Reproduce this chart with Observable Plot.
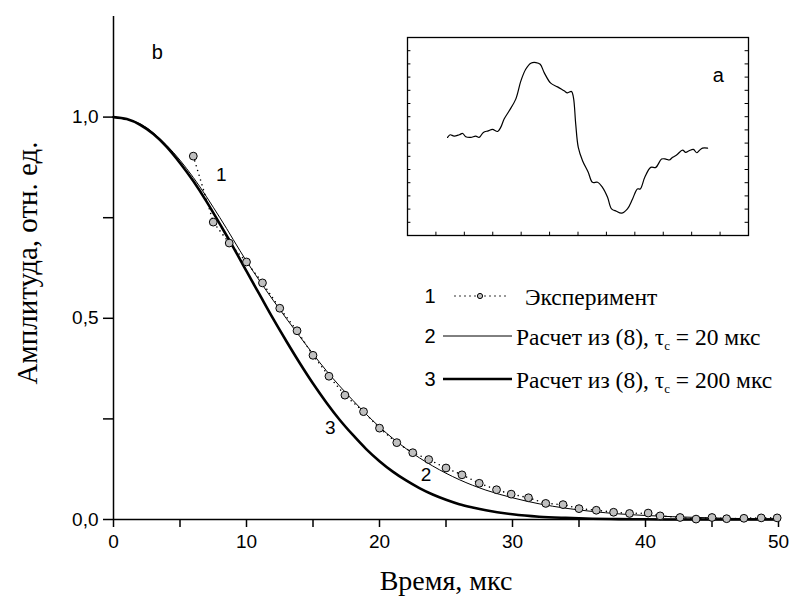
<!DOCTYPE html>
<html><head><meta charset="utf-8">
<script src="https://cdn.jsdelivr.net/npm/d3@7"></script>
<script src="https://cdn.jsdelivr.net/npm/@observablehq/plot@0.6"></script>
<style>
body{margin:0;background:#fff;}
#wrap{position:relative;width:789px;height:597px;overflow:hidden;}
#inset{position:absolute;left:406px;top:36px;}
.serif{font-family:"Liberation Serif","Times New Roman","DejaVu Serif",serif;}
</style></head><body><div id="wrap"><div id="main"></div><div id="inset"></div></div>
<script>
// Experimental points (curve 1)
const expTime = [6.0, 7.5, 8.7, 10.0, 11.2, 12.5, 13.8, 15.0, 16.2, 17.4, 18.8, 20.0, 21.3, 22.5, 23.7, 25.0, 26.2, 27.5, 28.8, 29.9, 31.2, 32.5, 33.8, 35.0, 36.3, 37.6, 38.8, 40.2, 41.1, 42.6, 43.8, 45.0, 46.1, 47.4, 48.7, 49.9];
const expAmp = [0.903, 0.739, 0.687, 0.640, 0.588, 0.525, 0.469, 0.408, 0.356, 0.309, 0.268, 0.227, 0.191, 0.166, 0.149, 0.128, 0.111, 0.090, 0.074, 0.063, 0.054, 0.040, 0.037, 0.027, 0.023, 0.018, 0.015, 0.016, 0.009, 0.005, 0.001, 0.005, 0.002, 0.003, 0.004, 0.004];
// Curve 2: calc, tau_c = 20 us (thin)
const thinTime = [0, 2, 4, 6, 8, 10, 12, 14, 16, 18, 20, 22, 24, 26, 28, 30, 32, 34, 36, 38, 40, 42, 44, 46, 48, 50];
const thinAmp = [1.000, 0.983, 0.930, 0.850, 0.750, 0.642, 0.545, 0.455, 0.370, 0.296, 0.230, 0.176, 0.133, 0.099, 0.073, 0.054, 0.039, 0.028, 0.020, 0.014, 0.010, 0.007, 0.005, 0.003, 0.002, 0.001];
// Curve 3: calc, tau_c = 200 us (thick)
const thickTime = [0, 1, 2, 3, 4, 5, 6, 7, 8, 9, 10, 11, 12, 13, 14, 15, 16, 17, 18, 19, 20, 21, 22, 23, 24, 25, 26, 27, 28, 30, 32, 34, 36, 38, 40, 42, 44, 46, 48, 50];
const thickAmp = [1.000, 0.995, 0.981, 0.958, 0.926, 0.886, 0.841, 0.790, 0.734, 0.677, 0.617, 0.558, 0.499, 0.443, 0.389, 0.338, 0.291, 0.248, 0.210, 0.175, 0.145, 0.119, 0.097, 0.078, 0.062, 0.049, 0.038, 0.030, 0.023, 0.013, 0.007, 0.004, 0.002, 0.001, 0.0005, 0, 0, 0, 0, 0];
// Curve number labels
const curveLabelText = ["1", "2", "3"];
const curveLabelX = [8.1, 23.5, 16.3];
const curveLabelY = [0.856, 0.11, 0.227];
// Axis ticks
const xTicks = [0, 10, 20, 30, 40, 50];
const xMinorTicks = [5, 15, 25, 35, 45];
const yTicks = [0, 0.5, 1.0];
const yMinorTicks = [0.25, 0.75];
const panelTag = "b";
const panelTagX = 3.3, panelTagY = 1.16;
const xLabel = "Время, мкс";
const yLabel = "Амплитуда, отн. ед.";
// Inset (a): signal trace, arbitrary units
const insetU = [1.41, 1.50, 1.64, 1.82, 1.94, 2.05, 2.23, 2.40, 2.52, 2.67, 2.84, 2.99, 3.17, 3.28, 3.40, 3.58, 3.81, 3.99, 4.16, 4.34, 4.52, 4.67, 4.81, 5.04, 5.28, 5.51, 5.63, 5.77, 5.84, 5.92, 6.01, 6.16, 6.36, 6.51, 6.69, 6.86, 7.04, 7.18, 7.35, 7.53, 7.74, 7.92, 8.09, 8.19, 8.35, 8.56, 8.74, 8.94, 9.09, 9.21, 9.33, 9.48, 9.68, 9.79, 9.91, 10.06, 10.18, 10.26, 10.38, 10.56];
const insetV = [7.43, 7.63, 7.53, 7.63, 7.73, 7.48, 7.43, 7.53, 7.43, 7.81, 7.93, 8.04, 7.88, 8.19, 8.82, 9.45, 10.33, 11.71, 12.59, 13.05, 13.10, 12.97, 12.34, 11.54, 11.26, 10.96, 10.81, 10.91, 10.45, 8.44, 6.68, 5.67, 4.79, 4.03, 4.03, 3.65, 2.90, 2.02, 1.84, 1.69, 2.02, 2.77, 3.53, 3.53, 4.41, 5.16, 5.16, 5.79, 5.79, 5.72, 5.92, 6.12, 6.47, 6.30, 6.42, 6.52, 6.27, 6.42, 6.62, 6.62];
const insetXTicks = [1, 2, 3, 4, 5, 6, 7, 8, 9, 10, 11];
const insetYTicks = [1, 2, 3, 4, 5, 6, 7, 8, 9, 10, 11, 12, 13, 14];
const insetTag = "a";
const insetTagU = 10.94, insetTagV = 12.1;
// Legend
const legendNum = ["1", "2", "3"];
const legendText = ["Эксперимент", "Расчет из (8), τ", "Расчет из (8), τ"];
const legendTail = ["", " = 20 мкс", " = 200 мкс"];

const exp = expTime.map((t, i) => ({t, a: expAmp[i]}));
const thin = thinTime.map((t, i) => ({t, a: thinAmp[i]}));
const thick = thickTime.map((t, i) => ({t, a: thickAmp[i]}));
const labels = curveLabelText.map((s, i) => ({s, x: curveLabelX[i], y: curveLabelY[i]}));
const comma = d => d.toFixed(1).replace(".", ",");
const sans = "Liberation Sans, Arial, sans-serif";

const main = Plot.plot({
  width: 789, height: 597,
  marginLeft: 113, marginRight: 11, marginTop: 16, marginBottom: 78,
  x: {domain: [0, 50]},
  y: {domain: [0, 1.25]},
  style: {background: "white", fontFamily: sans, fontSize: "19px", color: "black", overflow: "visible"},
  marks: [
    Plot.axisX(xTicks, {tickSize: 8, tickPadding: 7, label: null, fontSize: 19, strokeWidth: 1.5}),
    Plot.axisX(xMinorTicks, {tickSize: 8, tickFormat: () => "", label: null, strokeWidth: 1.5}),
    Plot.axisY(yTicks, {tickSize: 10, tickPadding: 5, tickFormat: comma, label: null, fontSize: 19, strokeWidth: 1.5}),
    Plot.axisY(yMinorTicks, {tickSize: 10, tickFormat: () => "", label: null, strokeWidth: 1.5}),
    Plot.ruleX([0], {strokeWidth: 1.5}),
    Plot.ruleY([0], {strokeWidth: 1.5}),
    Plot.line(thick, {x: "t", y: "a", stroke: "black", strokeWidth: 2.6, curve: "monotone-x"}),
    Plot.line(thin, {x: "t", y: "a", stroke: "black", strokeWidth: 1, curve: "monotone-x"}),
    Plot.line(exp, {x: "t", y: "a", stroke: "black", strokeWidth: 1.6, strokeDasharray: "0,5", strokeLinecap: "round"}),
    Plot.dot(exp, {x: "t", y: "a", r: 3.9, fill: "#c0c0c0", stroke: "black", strokeWidth: 1}),
    Plot.text(labels, {x: "x", y: "y", text: "s", fontSize: 19}),
    Plot.text([panelTag], {x: () => panelTagX, y: () => panelTagY, text: d => d, fontSize: 20}),
    Plot.text([xLabel], {frameAnchor: "bottom", dy: 62, lineAnchor: "middle", textAnchor: "middle", fontSize: 28, className: "serif"}),
    Plot.text([yLabel], {frameAnchor: "left", dx: -86, dy: -5, rotate: -90, lineAnchor: "middle", textAnchor: "middle", fontSize: 29, className: "serif"})
  ]
});
document.getElementById("main").append(main);

const ins = insetU.map((u, i) => ({u, v: insetV[i]}));
const inset = Plot.plot({
  width: 343, height: 200, margin: 1,
  x: {domain: [0, 12], axis: null},
  y: {domain: [0, 15], axis: null},
  style: {background: "transparent", overflow: "visible", fontFamily: sans},
  marks: [
    Plot.frame({stroke: "black", strokeWidth: 1.3}),
    Plot.ruleX(insetXTicks, {y1: 0, y2: 0.25, stroke: "black"}),
    Plot.ruleY(insetYTicks, {x1: 0, x2: 0.12, stroke: "black"}),
    Plot.ruleY(insetYTicks, {x1: 11.88, x2: 12, stroke: "black"}),
    Plot.line(ins, {x: "u", y: "v", stroke: "black", strokeWidth: 1.2, curve: "catmull-rom"}),
    Plot.text([insetTag], {x: () => insetTagU, y: () => insetTagV, text: d => d, fontSize: 20})
  ]
});
document.getElementById("inset").append(inset);

// Legend overlay
const leg = d3.create("svg").attr("width", 789).attr("height", 597)
  .style("position", "absolute").style("left", "0px").style("top", "0px");
const rowY = [296, 336, 379];
legendNum.forEach((n, i) => {
  const g = leg.append("g").attr("transform", `translate(0,${rowY[i]})`);
  g.append("text").attr("x", 430).attr("y", 7).attr("text-anchor", "middle")
    .attr("font-family", sans).attr("font-size", 20).text(n);
  if (i === 0) {
    g.append("line").attr("x1", 455).attr("x2", 506).attr("y1", 0).attr("y2", 0)
      .attr("stroke", "black").attr("stroke-width", 1.5).attr("stroke-dasharray", "0,5").attr("stroke-linecap", "round");
    g.append("circle").attr("cx", 480).attr("cy", 0).attr("r", 2.6).attr("fill", "#c0c0c0").attr("stroke", "black").attr("stroke-width", 1);
  } else {
    g.append("line").attr("x1", 443).attr("x2", 512).attr("y1", 0).attr("y2", 0)
      .attr("stroke", "black").attr("stroke-width", i === 1 ? 1 : 2.6);
  }
  const t = g.append("text").attr("class", "serif").attr("x", i === 0 ? 525 : 516).attr("y", 9)
    .attr("font-size", 23.5);
  t.append("tspan").text(legendText[i]);
  if (i > 0) {
    t.append("tspan").attr("font-size", 13).attr("dy", 5).text("c");
    t.append("tspan").attr("dy", -5).text(legendTail[i]);
  }
});
document.getElementById("wrap").append(leg.node());
</script>
</body></html>
